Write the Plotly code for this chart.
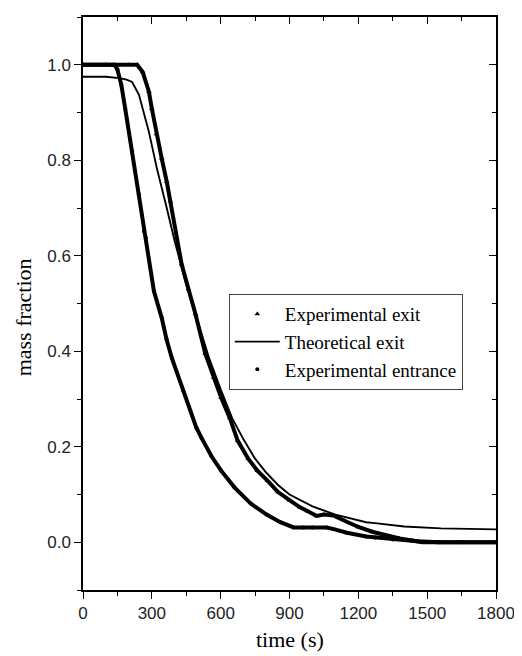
import plotly.graph_objects as go

# ---- data ----
exit_t = [0, 100, 200, 236, 260, 287, 300, 320, 343, 365, 381, 408, 430, 460, 490,
          533, 570, 602, 640, 674, 720, 760, 804, 850, 900, 946, 980, 1018, 1050,
          1091, 1140, 1200, 1260, 1320, 1380, 1440, 1480, 1550, 1650, 1800]
exit_v = [1.0, 1.0, 1.0, 1.0, 0.985, 0.944, 0.908, 0.855, 0.804, 0.755, 0.714, 0.637,
          0.582, 0.53, 0.478, 0.395, 0.345, 0.303, 0.26, 0.213, 0.175, 0.15, 0.129,
          0.105, 0.088, 0.073, 0.065, 0.055, 0.058, 0.056, 0.045, 0.032, 0.022, 0.014,
          0.008, 0.003, 0.0, 0.0, 0.0, 0.0]

theo_t = [0, 100, 158, 190, 214, 244, 287, 322, 365, 400, 450, 500, 550, 600, 650,
          700, 750, 800, 850, 900, 946, 1000, 1100, 1234, 1273, 1400, 1560, 1700, 1800]
theo_v = [0.975, 0.975, 0.972, 0.969, 0.964, 0.937, 0.860, 0.783, 0.70, 0.63, 0.54,
          0.46, 0.385, 0.32, 0.26, 0.215, 0.175, 0.145, 0.12, 0.10, 0.088, 0.075,
          0.058, 0.042, 0.040, 0.033, 0.029, 0.027, 0.027]

entr_t = [0, 100, 137, 150, 167, 184, 214, 244, 266, 274, 309, 343, 364, 387, 437,
          494, 516, 560, 602, 660, 731, 800, 860, 918, 960, 1000, 1062, 1089, 1150,
          1234, 1273, 1350, 1457, 1550, 1650, 1800]
entr_v = [1.0, 1.0, 1.0, 0.99, 0.958, 0.908, 0.818, 0.729, 0.651, 0.637, 0.526, 0.47,
          0.425, 0.386, 0.317, 0.24, 0.219, 0.18, 0.150, 0.115, 0.081, 0.058, 0.042,
          0.031, 0.031, 0.031, 0.031, 0.028, 0.02, 0.012, 0.01, 0.006, 0.002, 0.0,
          0.0, 0.0]

x_ticks = [0, 300, 600, 900, 1200, 1500, 1800]
y_ticks = [0.0, 0.2, 0.4, 0.6, 0.8, 1.0]
y_ticklabels = ["0.0", "0.2", "0.4", "0.6", "0.8", "1.0"]

names = ["Experimental exit", "Theoretical exit", "Experimental entrance"]

fig = go.Figure()

# experimental exit: dense marker band drawn as thick line + markers
fig.add_trace(go.Scatter(x=exit_t, y=exit_v, mode="lines",
                         line=dict(color="black", width=4), showlegend=False,
                         hoverinfo="skip"))
fig.add_trace(go.Scatter(x=exit_t, y=exit_v, mode="markers", name=names[0],
                         marker=dict(symbol="triangle-up", size=5, color="black")))
# theoretical exit
fig.add_trace(go.Scatter(x=theo_t, y=theo_v, mode="lines", name=names[1],
                         line=dict(color="black", width=1.9)))
# experimental entrance
fig.add_trace(go.Scatter(x=entr_t, y=entr_v, mode="lines",
                         line=dict(color="black", width=4), showlegend=False,
                         hoverinfo="skip"))
fig.add_trace(go.Scatter(x=entr_t, y=entr_v, mode="markers", name=names[2],
                         marker=dict(symbol="circle", size=4, color="black")))

tickfont = dict(family="Liberation Sans, Arial, sans-serif", size=17, color="#222")
serif = "Liberation Serif, Times New Roman, serif"

# the page body adds an 8px margin, so the figure is sized to fit 522x656
fig.update_layout(
    width=514, height=648,
    margin=dict(l=75, r=20, t=7, b=66),
    paper_bgcolor="white", plot_bgcolor="white",
    showlegend=True,
    legend=dict(x=0.353, y=0.5165, xanchor="left", yanchor="top",
                bordercolor="#444", borderwidth=1, bgcolor="white",
                font=dict(family=serif, size=19, color="black"),
                itemwidth=45, tracegroupgap=0,
                entrywidth=198, entrywidthmode="pixels"),
    xaxis=dict(range=[0, 1800], tickvals=x_ticks, ticktext=[str(v) for v in x_ticks],
               ticks="outside", ticklen=7, tickwidth=1.3, tickcolor="black",
               minor=dict(dtick=150, tick0=0, ticks="outside", ticklen=4,
                          tickwidth=1.2, tickcolor="black"),
               showline=True, linecolor="black", linewidth=1.5, mirror=True,
               showgrid=False, zeroline=False, tickfont=tickfont),
    yaxis=dict(range=[-0.1, 1.1], tickvals=y_ticks, ticktext=y_ticklabels,
               ticks="outside", ticklen=7, tickwidth=1.3, tickcolor="black",
               minor=dict(dtick=0.1, tick0=-0.1, ticks="outside", ticklen=4,
                          tickwidth=1.2, tickcolor="black"),
               showline=True, linecolor="black", linewidth=1.5, mirror=True,
               showgrid=False, zeroline=False, tickfont=tickfont),
    xaxis2=dict(range=[0, 1800], overlaying="x", side="top", matches="x",
                tickvals=x_ticks, showticklabels=False, ticks="inside", ticklen=7,
                tickwidth=1.3, tickcolor="black",
                minor=dict(dtick=150, tick0=0, ticks="inside", ticklen=4,
                           tickwidth=1.2, tickcolor="black"),
                showgrid=False, zeroline=False, showline=False),
    yaxis2=dict(range=[-0.1, 1.1], overlaying="y", side="right", matches="y",
                tickvals=y_ticks, showticklabels=False, ticks="inside", ticklen=7,
                tickwidth=1.3, tickcolor="black",
                minor=dict(dtick=0.1, tick0=-0.1, ticks="inside", ticklen=4,
                           tickwidth=1.2, tickcolor="black"),
                showgrid=False, zeroline=False, showline=False),
    annotations=[
        dict(text="time (s)", xref="paper", yref="paper", x=0.5, y=-0.087,
             xanchor="center", yanchor="middle", showarrow=False,
             font=dict(family=serif, size=22, color="black")),
        dict(text="mass fraction", xref="paper", yref="paper", x=-0.144, y=0.475,
             xanchor="center", yanchor="middle", showarrow=False, textangle=-90,
             font=dict(family=serif, size=22, color="black")),
    ],
)

# invisible trace so the mirrored tick axes are rendered
fig.add_trace(go.Scatter(x=[0], y=[0], xaxis="x2", yaxis="y2", mode="markers",
                         marker=dict(opacity=0), showlegend=False, hoverinfo="skip"))

fig.write_html("out.html")
